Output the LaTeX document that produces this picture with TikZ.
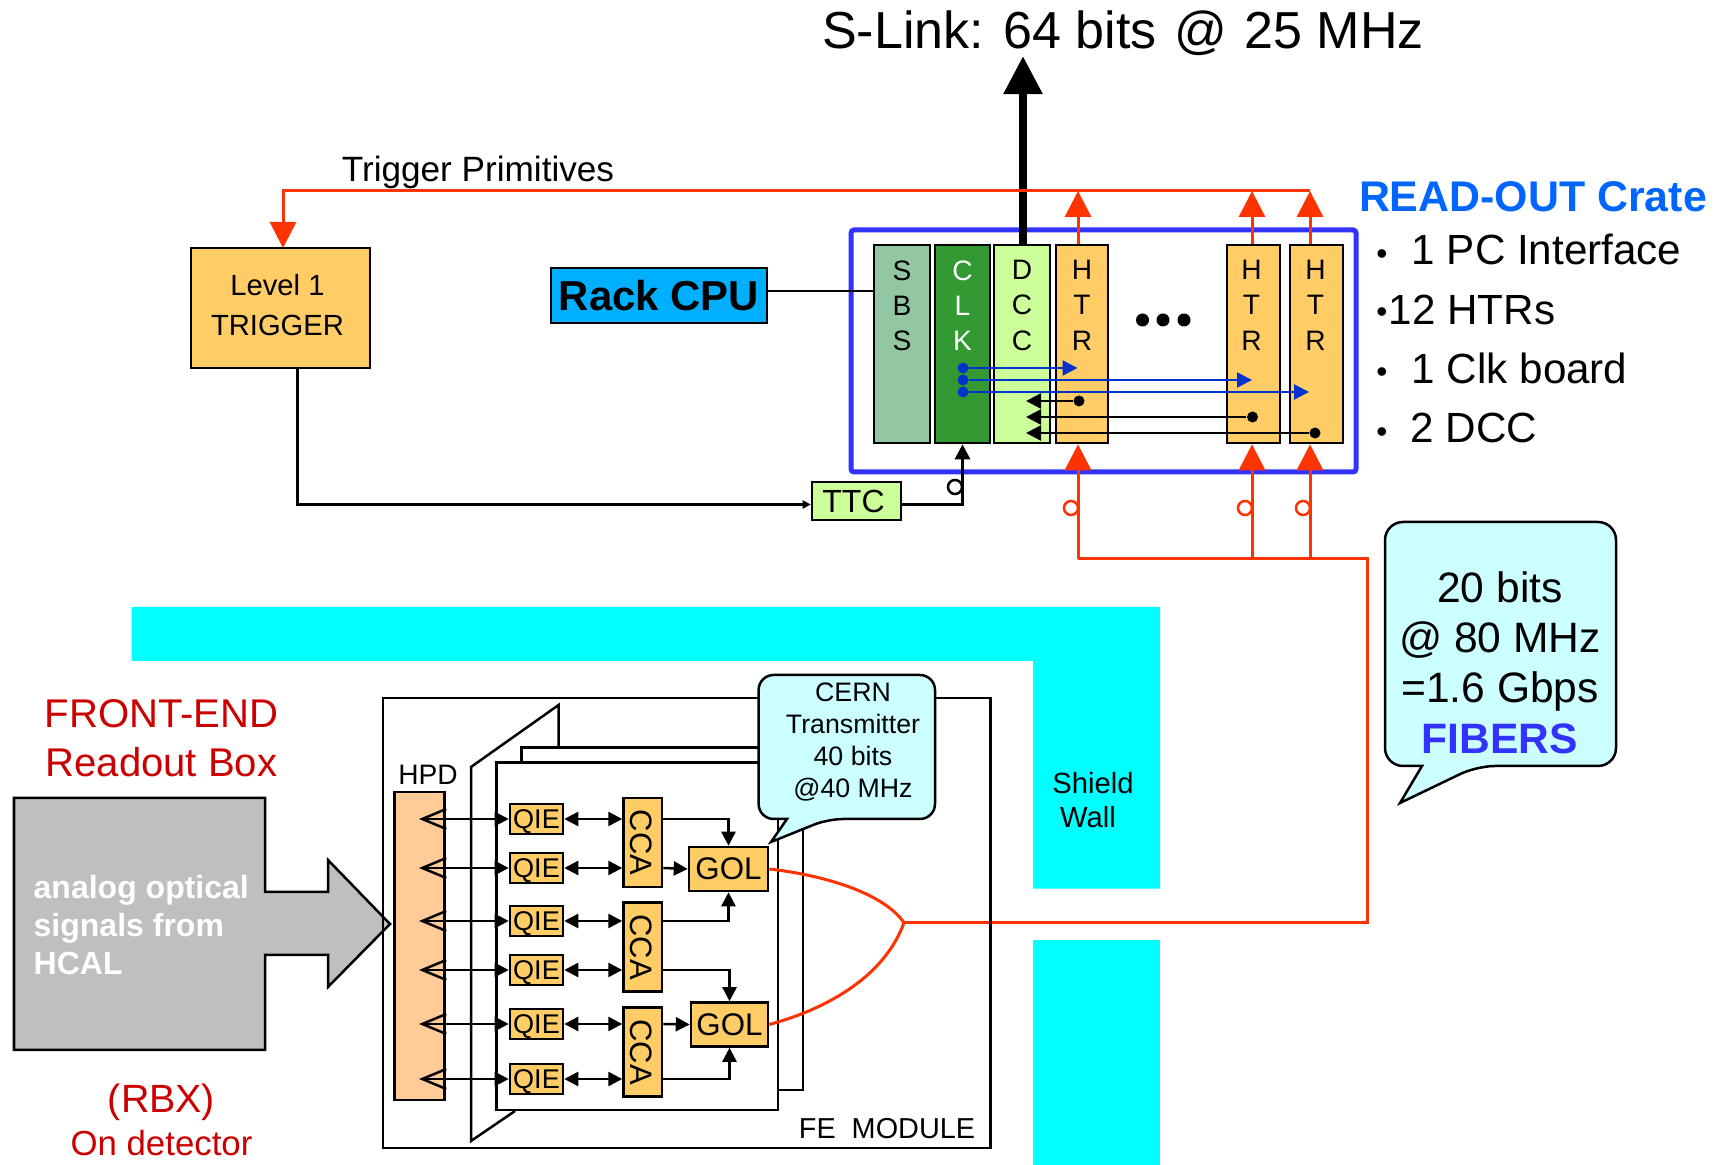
\documentclass[tikz,border=0pt]{standalone}
\usepackage{fontspec}
\setmainfont{Liberation Sans}
\usepackage{xcolor}
\usetikzlibrary{arrows.meta, calc}
\definecolor{htrorange}{HTML}{FFCC66}
\definecolor{sbsgreen}{HTML}{93C6A3}
\definecolor{clkgreen}{HTML}{339933}
\definecolor{dccgreen}{HTML}{CCFF99}
\definecolor{hpdpeach}{HTML}{FFCC99}
\definecolor{calloutcyan}{HTML}{CCFFFF}
\definecolor{fiberred}{HTML}{FF3300}
\definecolor{cratedblue}{HTML}{3333FF}
\definecolor{clockblue}{HTML}{0033CC}
\definecolor{headblue}{HTML}{0066FF}
\definecolor{rbxred}{HTML}{CC0000}
\definecolor{rackblue}{HTML}{00B0FF}
\definecolor{shieldcyan}{HTML}{00FFFF}
\newcommand{\rotlabel}[1]{\hspace*{-.04cm}\rotatebox{-90}{#1}}
\tikzset{
    box/.style={draw=black, line width=.025cm, inner sep=0pt, align=center},
    slot/.style={box, minimum height=1.98cm},
    slottext/.style={anchor=north, yshift=-.16cm, align=center, inner sep=0pt, font=\fontsize{8}{10}\selectfont},
    qie/.style={box, fill=htrorange, minimum width=.53cm, minimum height=.3cm, text height=.19cm, text depth=0pt, font=\fontsize{7.7}{9}\selectfont},
    cca/.style={box, fill=htrorange, minimum width=.385cm, minimum height=.885cm, font=\fontsize{8.8}{10}\selectfont},
    gol/.style={box, fill=htrorange, minimum height=.44cm, text height=.22cm, text depth=0pt, font=\fontsize{8.9}{10}\selectfont},
    fiber/.style={draw=fiberred, line width=.03cm},
    bighead/.style={-{Triangle[length=.26cm,width=.26cm]}},
    sighead/.style={line width=.025cm, {Triangle[length=.14cm,width=.14cm]}-{Triangle[length=.14cm,width=.14cm]}},
    onehead/.style={line width=.025cm, -{Triangle[length=.14cm,width=.14cm]}},
    hpdline/.style={line width=.025cm, {Straight Barb[length=.24cm,width=.2cm]}-{Triangle[length=.14cm,width=.14cm]}},
    ring/.style={circle, draw, fill=none, line width=.025cm, minimum size=.14cm, inner sep=0pt},
    dot/.style={circle, fill, minimum size=.11cm, inner sep=0pt},
    callout/.style={draw=black, fill=calloutcyan, line width=.025cm},
    shield/.style={fill=shieldcyan},
    plain/.style={inner sep=0pt, align=center}
}
\begin{document}
\begin{tikzpicture}[x=.01cm, y=-.01cm]
    \useasboundingbox (0,0) rectangle (1718,1165);
    \fill[white] (0,0) rectangle (1718,1165);

    \fill[shield] (131.5,607) -- (1160,607) -- (1160,888.6) -- (1033,888.6) -- (1033,661) -- (131.5,661) -- cycle;
    \fill[shield] (1033,940) rectangle (1160,1165);
    \node[plain, font=\fontsize{8.3}{9.6}\selectfont] (wallA) at (1093,783) {Shield};
    \node[plain, font=\fontsize{8.3}{9.6}\selectfont] (wallB) at (1088,817) {Wall};

    \node[plain, font=\fontsize{14.8}{17}\selectfont] (slink) at (1123,33) {S-Link: 64 bits\ \kern.03cm@\kern.03cm\ 25 MHz};
    \node[plain, font=\fontsize{10}{12}\selectfont] (primitives) at (478,172) {Trigger Primitives};
    \node[plain, text=headblue, font=\bfseries\fontsize{12.2}{14}\selectfont] (crateTitle) at (1533,197) {READ-OUT Crate};
    \foreach \n/\y in {a/257, b/315, c/375, d/435} {
        \node[plain, font=\fontsize{9}{10}\selectfont] (bullet\n) at (1382,\y) {•};
    }
    \node[plain, anchor=west, font=\fontsize{12}{14}\selectfont] (itemA) at (1411,249) {1 PC Interface};
    \node[plain, anchor=west, font=\fontsize{12}{14}\selectfont] (itemB) at (1388,310) {12 HTRs};
    \node[plain, anchor=west, font=\fontsize{12}{14}\selectfont] (itemC) at (1411,368) {1 Clk board};
    \node[plain, anchor=west, font=\fontsize{12}{14}\selectfont] (itemD) at (1410,428) {2 DCC};

    \node[box, fill=htrorange, minimum width=1.79cm, minimum height=1.2cm] (trigger) at (280.5,308) {};
    \node[plain, font=\fontsize{8.3}{11.6}\selectfont] (triggertext) at (277.5,305) {Level 1\\TRIGGER};
    \node[box, fill=rackblue, minimum width=2.16cm, minimum height=.55cm, font=\bfseries\fontsize{11.9}{14}\selectfont] (rack) at (659,295.5) {Rack CPU};

    \draw[draw=cratedblue, line width=.05cm, rounded corners=.03cm] (851,230) rectangle (1356,472);
    \node[slot, fill=sbsgreen, minimum width=.56cm] (sbs) at (902,344) {};
    \node[slot, fill=clkgreen, minimum width=.55cm] (clk) at (962.5,344) {};
    \node[slot, fill=dccgreen, minimum width=.56cm] (dcc) at (1022,344) {};
    \node[slot, fill=htrorange, minimum width=.52cm] (htrA) at (1082,344) {};
    \node[slot, fill=htrorange, minimum width=.53cm] (htrB) at (1253.5,344) {};
    \node[slot, fill=htrorange, minimum width=.53cm] (htrC) at (1316.5,344) {};
    \node[slottext] at (sbs.north) {S\\B\\S};
    \node[slottext, text=white] at (clk.north) {C\\L\\K};
    \node[slottext] at (dcc.north) {D\\C\\C};
    \node[slottext] at (htrA.north) {H\\T\\R};
    \node[slottext, xshift=-.02cm] at (htrB.north) {H\\T\\R};
    \node[slottext, xshift=-.01cm] at (htrC.north) {H\\T\\R};
    \foreach \n/\x in {a/1142.5, b/1163, c/1184} {
        \node[dot, minimum size=.13cm] (more\n) at (\x,320) {};
    }

    \coordinate (sbsin) at (874,291);
    \draw[line width=.025cm] (sbsin -| rack.east) -- (sbsin);

    \coordinate (slinktip) at (1023,56);
    \draw[line width=.085cm, -{Triangle[length=.38cm,width=.37cm]}] (slinktip |- dcc.north) -- (slinktip);

    \foreach \n/\y/\x in {a/368/1077.5, b/380/1252, c/392/1309} {
        \node[dot, fill=clockblue] (clk\n) at (963,\y) {};
        \coordinate (clkend\n) at (\x,\y);
        \draw[draw=clockblue, line width=.025cm, -{Triangle[length=.15cm,width=.15cm]}] (clk\n) -- (clkend\n);
    }
    \foreach \n/\y/\x in {a/401/1079, b/417/1252.5, c/433/1315} {
        \node[dot] (htrdot\n) at (\x,\y) {};
        \coordinate (dccend\n) at (1026,\y);
        \draw[line width=.025cm, -{Triangle[length=.15cm,width=.15cm]}] (htrdot\n) -- (dccend\n);
    }

    \coordinate (upA) at (1078,191);
    \coordinate (upB) at (1252,191);
    \coordinate (upC) at (1310,191);
    \coordinate (trigin) at (283,248);
    \draw[fiber, bighead] (upA |- htrA.north) -- (upA);
    \draw[fiber, bighead] (upB |- htrB.north) -- (upB);
    \draw[fiber, bighead] (upC |- htrC.north) -- (upC);
    \draw[fiber, bighead] (upC) -| (trigin);

    \node[box, fill=dccgreen, minimum width=.89cm, minimum height=.38cm, font=\fontsize{9.1}{10}\selectfont] (ttc) at (856.5,501) {TTC\kern.06cm};
    \coordinate (trigout) at (297,368);
    \coordinate (ttcline) at (297,504.5);
    \draw[line width=.03cm, -{Triangle[length=.08cm,width=.08cm]}] (trigout) |- (ttcline -| ttc.west);
    \draw[line width=.03cm, -{Triangle[length=.15cm,width=.15cm]}] (ttcline -| ttc.east) -| (clk.south);
    \node[ring] (ttcring) at (955,487) {};

    \coordinate (fiberA) at (1078,559);
    \coordinate (fiberB) at (1252,559);
    \coordinate (fiberC) at (1310,559);
    \coordinate (fiberD) at (1367.5,559);
    \coordinate (joint) at (904,922.7);
    \draw[fiber] (joint) -- (fiberD |- joint) -- (fiberD) -- (fiberA);
    \draw[fiber, bighead] (fiberA) -- (fiberA |- htrA.south);
    \draw[fiber, bighead] (fiberB) -- (fiberB |- htrB.south);
    \draw[fiber, bighead] (fiberC) -- (fiberC |- htrC.south);
    \foreach \n/\x in {A/1071, B/1245, C/1303} {
        \node[ring, draw=fiberred] (ring\n) at (\x,508) {};
    }

    \draw[callout] (1422,766) [rounded corners=.18cm] -- (1385,766) -- (1385,522) -- (1616,522) -- (1616,766) -- (1477,766) [sharp corners] -- (1400,803) -- cycle;
    \node[plain, font=\fontsize{12.1}{14.3}\selectfont] (fibertext) at (1500,662.5) {20 bits\\@ 80 MHz\\=1.6 Gbps\\\textcolor{cratedblue}{\bfseries FIBERS}};

    \node[plain, text=rbxred, font=\fontsize{11.4}{13.9}\selectfont] (frontend) at (161.5,738) {FRONT-END\\Readout Box};
    \node[plain, text=rbxred, font=\fontsize{11.2}{13}\selectfont] (rbx) at (161.5,1102) {(RBX)};
    \node[plain, text=rbxred, font=\fontsize{9.9}{12}\selectfont] (ondet) at (161.5,1143) {On detector};

    \draw[fill=gray!50, line width=.025cm] (14,798) -- (265,798) -- (265,892) -- (328,892) -- (328,860) -- (390,924) -- (328,987) -- (328,955) -- (265,955) -- (265,1050) -- (14,1050) -- cycle;
    \node[plain, anchor=west, align=left, text=white, font=\bfseries\fontsize{9.1}{10.8}\selectfont] (analog) at (33,925) {analog optical\\signals from\\HCAL};

    \draw[line width=.025cm] (383,698) rectangle (990.5,1148);
    \node[plain, font=\fontsize{8.2}{10}\selectfont] (femodule) at (887,1129) {FE\ \ MODULE};
    \draw[line width=.025cm] (558.6,747) -- (558.6,705) -- (471,767) -- (471,1141) -- (515,1111);
    \draw[fill=white, line width=.025cm] (521.4,747.7) rectangle (803,1090);
    \draw[fill=white, line width=.025cm] (496.4,762.7) rectangle (778,1110);

    \node[box, fill=hpdpeach, minimum width=.5cm, minimum height=3.08cm] (hpd) at (419.3,946) {};
    \node[plain, font=\fontsize{8}{10}\selectfont] (hpdlabel) at (428,775) {HPD};

    \foreach \n/\y in {1/819, 2/868, 3/921, 4/970, 5/1024, 6/1079} {
        \node[qie] (qie\n) at (536.5,\y) {QIE};
        \coordinate (hpdtip\n) at (419,\y);
    }
    \node[cca] (ccaA) at (642.8,842.5) {\rotlabel{CCA}};
    \node[cca] (ccaB) at (642.8,947) {\rotlabel{CCA}};
    \node[cca] (ccaC) at (642.8,1052) {\rotlabel{CCA}};
    \node[gol, minimum width=.79cm] (golA) at (728.5,869) {GOL};
    \node[gol, minimum width=.77cm] (golB) at (729.5,1024.5) {GOL};

    \foreach \n/\c in {1/A, 2/A, 3/B, 4/B, 5/C, 6/C} {
        \draw[hpdline] (hpdtip\n) -- (qie\n.west);
        \draw[sighead] (qie\n.east) -- (qie\n.east -| cca\c.west);
    }
    \draw[onehead] (ccaA.east |- qie1) -| (golA.north);
    \draw[onehead] (ccaA.east |- qie2) -- (golA.west);
    \draw[onehead] (ccaB.east |- qie3) -| (golA.south);
    \draw[onehead] (ccaB.east |- qie4) -| (golB.north);
    \draw[onehead] (ccaC.east |- qie5) -- (golB.west);
    \draw[onehead] (ccaC.east |- qie6) -| (golB.south);

    \draw[fiber] (golA.east) .. controls (830,876) and (885,895) .. (joint);
    \draw[fiber] (golB.east) .. controls (830,1008) and (885,975) .. (joint);

    \draw[callout] (787,819) [rounded corners=.15cm] -- (758.6,819) -- (758.6,675) -- (935,675) -- (935,819) -- (828,819) [sharp corners] -- (771,842) -- cycle;
    \node[plain, font=\fontsize{7.6}{9.1}\selectfont] (centext) at (853,742) {CERN\\Transmitter\\40 bits\\@40 MHz};
\end{tikzpicture}
\end{document}
